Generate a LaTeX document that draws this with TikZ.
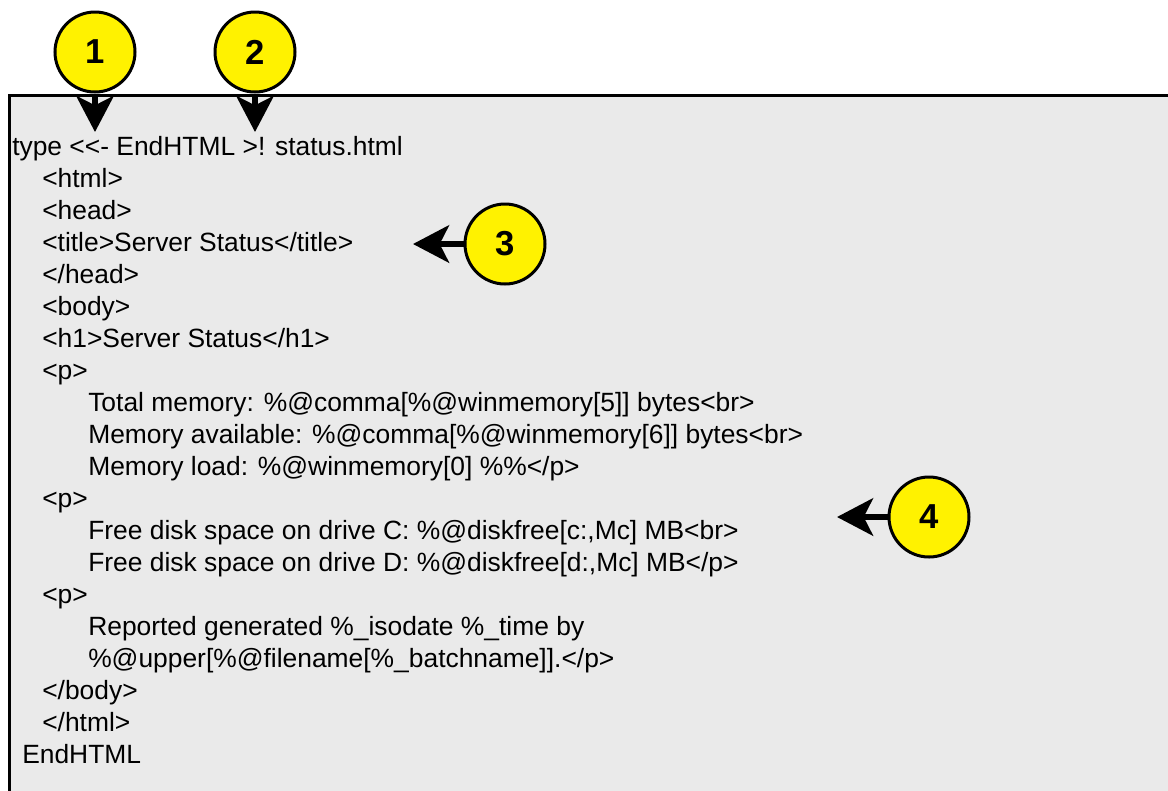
\documentclass[tikz,border=0pt]{standalone}
\usepackage{fontspec}
\setmainfont{Liberation Sans}
\usepackage{tikz}
\usetikzlibrary{arrows.meta}
\definecolor{boxgray}{RGB}{234,234,234}
\tikzstyle{codebox}   = [draw=black, line width=2.25pt, fill=boxgray]
\tikzstyle{codeline}  = [anchor=base west, inner sep=0pt, font=\fontsize{19.8}{24}\selectfont]
\tikzstyle{callout}   = [circle, draw=black, line width=2.25pt, fill=yellow, minimum size=60pt, inner sep=0pt, font=\fontsize{26}{30}\selectfont\bfseries]
\tikzstyle{callarrow} = [line width=4.5pt, -{Stealth[length=27pt, width=28pt, inset=7pt]}]

\begin{document}
\begin{tikzpicture}[x=0.75pt, y=-0.75pt]
        \clip (0,0) rectangle (1168,790);

        % listing
        \draw[codebox] (9,95) rectangle (1200,830);
        \node[codeline] (l1)  at (12,155)  {type <{}<- EndHTML >! status.html};
        \node[codeline] (l2)  at (42,187)  {<html>};
        \node[codeline] (l3)  at (42,219)  {<head>};
        \node[codeline] (l4)  at (42,251)  {<title>Server Status</title>};
        \node[codeline] (l5)  at (42,283)  {</head>};
        \node[codeline] (l6)  at (42,315)  {<body>};
        \node[codeline] (l7)  at (42,347)  {<h1>Server Status</h1>};
        \node[codeline] (l8)  at (42,379)  {<p>};
        \node[codeline] (l9)  at (88,411)  {Total memory: \%@comma[\%@winmemory[5]] bytes<br>};
        \node[codeline] (l10) at (88,443)  {Memory available: \%@comma[\%@winmemory[6]] bytes<br>};
        \node[codeline] (l11) at (88,475)  {Memory load: \%@winmemory[0] \%\%</p>};
        \node[codeline] (l12) at (42,507)  {<p>};
        \node[codeline] (l13) at (88,539)  {Free disk space on drive C: \%@diskfree[c:,Mc] MB<br>};
        \node[codeline] (l14) at (88,571)  {Free disk space on drive D: \%@diskfree[d:,Mc] MB</p>};
        \node[codeline] (l15) at (42,603)  {<p>};
        \node[codeline] (l16) at (88,635)  {Reported generated \%\_isodate \%\_time by};
        \node[codeline] (l17) at (88,667)  {\%@upper[\%@filename[\%\_batchname]].</p>};
        \node[codeline] (l18) at (42,699)  {</body>};
        \node[codeline] (l19) at (42,731)  {</html>};
        \node[codeline] (l20) at (22,763)  {EndHTML};

        % callouts
        \node[callout] (c1) at (95,52)    {1};
        \node[callout] (c2) at (255,52)   {2};
        \node[callout] (c3) at (505,244)  {3};
        \node[callout] (c4) at (929,517)  {4};

        \coordinate (t1) at (95,132);
        \coordinate (t2) at (255,132);
        \coordinate (t3) at (413,244);
        \coordinate (t4) at (837,517);

        \draw[callarrow] (c1) -- (t1);
        \draw[callarrow] (c2) -- (t2);
        \draw[callarrow] (c3) -- (t3);
        \draw[callarrow] (c4) -- (t4);
\end{tikzpicture}
\end{document}
